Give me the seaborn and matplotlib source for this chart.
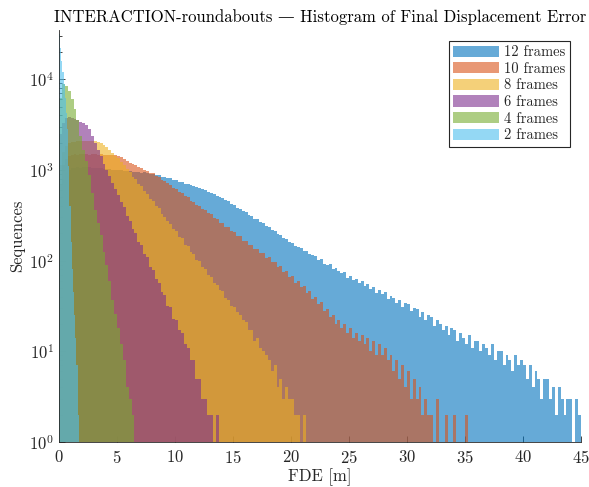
"""
Histogram of final displacement error (FDE) for several prediction horizons,
INTERACTION-roundabouts. Log-scaled counts, MATLAB-like look.
"""
import numpy as np
import pandas as pd
import matplotlib
matplotlib.use("Agg")
import matplotlib.pyplot as plt
import seaborn as sns

# bin widths [m]
BIN_W = 0.25
BIN_W_2 = 0.1

# counts per bin (log axis)
frames_12 = [
    501, 794, 933, 1000,
    1047, 1052, 1072, 1065, 1070, 1078, 1068, 1049, 1055, 1040, 1046, 1023,
    1030, 1015, 1000, 1008, 995, 990, 977, 982, 970, 955, 960, 948, 933, 940, 925, 912,
    905, 880, 878, 846, 836, 806, 810, 778,
    772, 745, 738, 708, 705, 680, 671, 648,
    636, 610, 600, 568, 560, 538, 522, 508,
    494, 462, 452, 420, 410, 384, 376, 350,
    342, 318, 312, 290, 285, 264, 260, 240,
    238, 218, 214, 196, 193, 178, 174, 160,
    158, 146, 141, 138, 127, 129, 117, 116,
    112, 101, 104, 93, 90, 91, 81, 83,
    77, 73, 75, 64, 68, 61, 63, 57,
    60, 52, 55, 49, 51, 44, 47, 43,
    45, 38, 41, 39, 34, 37, 31, 34,
    33, 28, 30, 29, 24, 27, 22, 25,
    24, 19, 22, 20, 17, 19, 15, 18,
    17, 13, 16, 14, 12, 15, 11, 13,
    13, 10, 12, 11, 9, 12, 8, 10,
    10, 7, 9, 8, 6, 9, 7, 8,
    7, 5, 7, 4, 6, 5, 3, 5,
    5, 3, 4, 2, 4, 3, 2, 3, 3, 0, 3, 2,
]
frames_10 = [
    708, 1122, 1318, 1413,
    1470, 1485, 1478, 1492, 1488, 1495, 1480, 1490, 1484, 1478, 1486, 1472,
    1480, 1466, 1470, 1455,
    1445, 1380, 1318, 1259, 1202, 1175, 1122, 1072, 1047, 1000, 977, 933,
    915, 866, 836, 780, 754, 710, 688, 640,
    622, 575, 555, 518, 500, 460, 447, 410,
    402, 370, 360, 332, 325, 296, 290, 262,
    262, 236, 233, 210, 208, 187, 186, 166,
    166, 150, 150, 133, 136, 121, 122, 107,
    110, 96, 97, 85, 87, 75, 77, 66,
    68, 57, 60, 51, 52, 44, 46, 38,
    40, 33, 35, 28, 29, 24, 25, 20,
    22, 18, 20, 16, 18, 14, 16, 13,
    15, 12, 14, 10, 13, 9, 12, 9,
    11, 8, 9, 6, 8, 5, 7, 4,
    6, 3, 5, 3, 4, 2, 3, 2,
    2, 0, 3, 0, 0, 2, 0, 0, 2, 0, 0, 0, 2,
]
frames_8 = [
    1122, 1585, 1862, 1995, 2042, 2060, 2089, 2095, 2080, 2100, 2089, 2092,
    2085, 2042, 1995, 1905,
    1778, 1660, 1549, 1445, 1349, 1230, 1122, 1023,
    940, 845, 790, 700, 660, 582, 548, 482,
    452, 398, 384, 330, 306, 272, 254, 224,
    214, 181, 176, 150, 144, 126, 119, 102,
    98, 85, 80, 69, 66, 57, 54, 47,
    46, 39, 37, 32, 31, 27, 25, 22,
    21, 17, 17, 13, 14, 11, 10, 9,
    8, 6, 7, 4, 5, 3, 4, 3,
    3, 2, 2, 0, 2,
]
frames_6 = [
    2512, 3311, 3715, 3802, 3715, 3631, 3548, 3388, 3311, 3162, 2818, 2399,
    1995, 1660, 1413, 1175, 1000, 851, 724, 617, 530, 440, 392, 310,
    272, 222, 200, 160, 150, 118, 110, 86, 79, 62, 57, 45,
    42, 32, 31, 23, 22, 17, 16, 12, 11, 8, 8, 5,
    5, 3, 3, 2, 2, 0, 2,
]
frames_4 = [
    6300, 8900, 8500, 7400, 6000, 4700, 3550, 2400, 1660, 1260, 890, 560,
    363, 263, 190, 126, 89, 60, 37, 26, 18, 12, 8, 4, 3, 2,
]
frames_2 = [
    31600, 22400, 15800, 12000, 8900, 6300, 4200, 2800, 1100, 400, 160, 80,
    45, 25, 14, 7, 2,
]

labels = ["12 frames", "10 frames", "8 frames", "6 frames", "4 frames", "2 frames"]
series = [frames_12, frames_10, frames_8, frames_6, frames_4, frames_2]
widths = [BIN_W, BIN_W, BIN_W, BIN_W, BIN_W, BIN_W_2]
# MATLAB default line colours
colors = ["#0072BD", "#D95319", "#EDB120", "#7E2F8E", "#77AC30", "#4DBEEE"]

sns.set_theme(style="ticks")
plt.rcParams["font.family"] = ["cmr10", "DejaVu Serif"]
plt.rcParams["mathtext.fontset"] = "cm"
plt.rcParams["axes.formatter.use_mathtext"] = True
plt.rcParams["axes.unicode_minus"] = False

fig = plt.figure(figsize=(5.89, 4.87), dpi=100)
ax = fig.add_axes([0.1002, 0.0924, 0.8862, 0.846])

for counts, w, label, color in zip(series, widths, labels, colors):
    edges = np.arange(len(counts) + 1) * w
    df = pd.DataFrame({"fde": edges[:-1] + w / 2, "count": counts})
    sns.histplot(data=df, x="fde", weights="count", bins=list(edges),
                 element="step", fill=True, color=color, alpha=0.6,
                 linewidth=0, label=label, ax=ax)

ax.set_yscale("log")
ax.set_xlim(0, 45)
ax.set_ylim(1, 35000)
ax.set_xticks(np.arange(0, 46, 5))

edge = "#262626"
for side in ["top", "right"]:
    ax.spines[side].set_visible(False)
for side in ["left", "bottom"]:
    ax.spines[side].set_color(edge)
    ax.spines[side].set_linewidth(0.6)
ax.tick_params(which="both", direction="in", top=False, right=False,
               colors=edge, labelsize=12, width=0.6)
ax.tick_params(which="major", length=4)
ax.tick_params(which="minor", length=2.5)
ax.tick_params(axis="x", which="minor", bottom=False)
ax.tick_params(axis="x", pad=5)

ax.set_title("INTERACTION-roundabouts — Histogram of Final Displacement Error",
             fontsize=12, pad=6, color="black")
ax.set_xlabel("FDE [m]", fontsize=12, labelpad=2)
ax.set_ylabel("Sequences", fontsize=12, labelpad=3)

leg = ax.legend(loc="upper right", bbox_to_anchor=(0.979, 0.973),
                borderaxespad=0, fontsize=10.5, handlelength=3.1,
                handleheight=0.8, labelspacing=0.2, borderpad=0.3,
                handletextpad=0.4, fancybox=False, framealpha=1)
leg.get_frame().set_edgecolor(edge)
leg.get_frame().set_linewidth(0.8)

fig.savefig("out.png", dpi=100)
